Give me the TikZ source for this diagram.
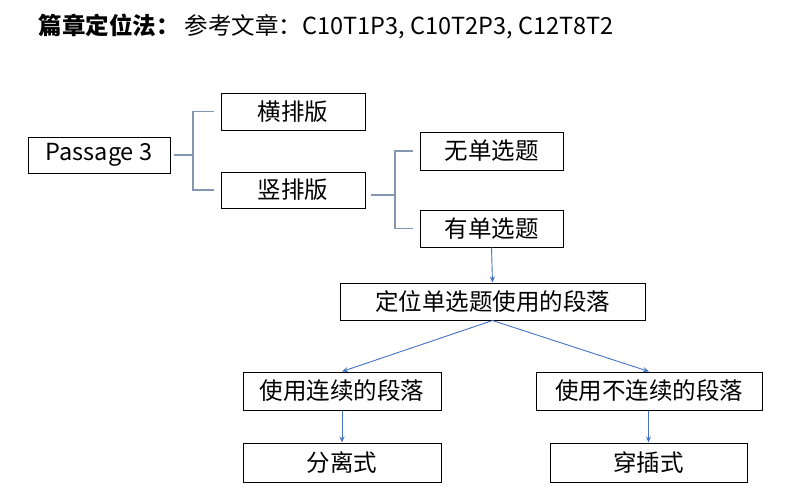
\documentclass[tikz,border=0pt]{standalone}
\usepackage{fontspec}
\setmainfont{Noto Sans CJK SC}
\usetikzlibrary{arrows.meta}
\definecolor{brk}{HTML}{8497B0}
\definecolor{arr}{HTML}{4472C4}
\tikzset{
  box/.style={draw=black, line width=1pt, fill=white, inner sep=0pt,
    font=\fontsize{23.5}{27}\selectfont},
  brace/.style={draw=brk, line width=1.2pt},
  link/.style={draw=arr, line width=0.9pt, -{Stealth[length=6pt,width=5pt]}}
}
\begin{document}
\begin{tikzpicture}[x=1pt,y=-1pt]
  \useasboundingbox (0,0) rectangle (788,499);

  \node[anchor=west, font=\fontsize{23.5}{27}\selectfont] (title) at (35,26)
    {\textbf{篇章定位法：} 参考文章：C10T1P3, C10T2P3, C12T8T2};

  \node[box, minimum width=142pt, minimum height=36pt] (psg) at (99,155) {Passage 3};
  \node[box, minimum width=144pt, minimum height=37pt] (hor) at (293,111.5) {横排版};
  \node[box, minimum width=144pt, minimum height=36pt] (ver) at (293,190) {竖排版};
  \node[box, minimum width=143pt, minimum height=38pt] (nos) at (491.5,151) {无单选题};
  \node[box, minimum width=143pt, minimum height=37pt] (yes) at (491.5,228.5) {有单选题};
  \node[box, minimum width=305pt, minimum height=37pt] (loc) at (492.5,301.5) {定位单选题使用的段落};
  \node[box, minimum width=198pt, minimum height=38pt] (cont) at (342,391) {使用连续的段落};
  \node[box, minimum width=226pt, minimum height=38pt] (disc) at (649,391) {使用不连续的段落};
  \node[box, minimum width=198pt, minimum height=39pt] (sep) at (342,462.5) {分离式};
  \node[box, minimum width=197pt, minimum height=39pt] (mix) at (648.5,462.5) {穿插式};

  % brackets
  \coordinate (b1) at (193,155);
  \draw[brace, shorten <=3pt] (psg.east) -- (b1);
  \draw[brace, shorten <=7pt, shorten >=7pt] (hor.west) -| (b1) |- (ver.west);
  \coordinate (b2) at (395,195);
  \draw[brace, shorten <=5pt] (ver.east |- b2) -- (b2);
  \draw[brace, shorten <=7pt, shorten >=7pt] (nos.west) -| (b2) |- (yes.west);

  % arrows
  \draw[link] (yes.south) -- (loc.north);
  \draw[link] (loc.south) -- (cont.north);
  \draw[link] (loc.south) -- (disc.north);
  \draw[link] (cont.south) -- (sep.north);
  \draw[link] (mix.north |- disc.south) -- (mix.north);
\end{tikzpicture}
\end{document}
